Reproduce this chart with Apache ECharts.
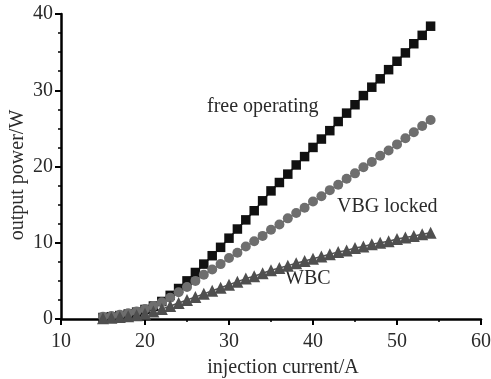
<!DOCTYPE html>
<html>
<head>
<meta charset="utf-8">
<script src="https://cdn.jsdelivr.net/npm/echarts@6/dist/echarts.min.js"></script>
<style>
  html, body { margin: 0; padding: 0; background: #fff; }
  #chart { width: 491px; height: 379px; }
</style>
</head>
<body>
<div id="chart"></div>
<script>
// Injection current (A)
const current = [15,16,17,18,19,20,21,22,23,24,25,26,27,28,29,30,31,32,33,34,35,36,37,38,39,40,41,42,43,44,45,46,47,48,49,50,51,52,53,54];
// Output power (W) for each configuration
const freeOperating = [0.2,0.3,0.45,0.65,0.9,1.25,1.7,2.3,3.1,4.0,5.0,6.1,7.2,8.3,9.4,10.6,11.8,13.0,14.2,15.5,16.8,17.9,19.0,20.2,21.3,22.5,23.6,24.7,25.9,27.0,28.1,29.3,30.4,31.5,32.7,33.8,34.9,36.1,37.2,38.4];
const vbgLocked = [0.3,0.4,0.55,0.75,1.0,1.3,1.7,2.2,2.8,3.5,4.2,5.0,5.8,6.5,7.2,8.0,8.7,9.5,10.2,10.9,11.7,12.4,13.2,13.9,14.6,15.4,16.1,16.9,17.6,18.4,19.1,19.9,20.6,21.4,22.1,22.9,23.7,24.5,25.3,26.1];
const wbc = [0.1,0.15,0.25,0.35,0.5,0.7,1.0,1.3,1.7,2.1,2.5,2.9,3.3,3.7,4.1,4.5,4.9,5.3,5.6,6.0,6.4,6.7,7.0,7.3,7.6,7.9,8.2,8.5,8.8,9.0,9.3,9.5,9.8,10.0,10.2,10.5,10.7,10.9,11.1,11.3];
const seriesNames = ['free operating', 'VBG locked', 'WBC'];

const FONT = '"Liberation Serif", "DejaVu Serif", serif';
const pairs = arr => current.map((c, i) => [c, arr[i]]);

const chart = echarts.init(document.getElementById('chart'));
const axisCommon = {
  axisLine: { onZero: false, lineStyle: { color: '#000', width: 2.5 } },
  axisTick: { inside: false, length: 6, lineStyle: { color: '#000', width: 2 } },
  minorTick: { show: true, length: 3, lineStyle: { color: '#000', width: 1.5 } },
  splitLine: { show: false },
  axisLabel: { color: '#2a2a2a', fontFamily: FONT, fontSize: 20 },
  nameTextStyle: { color: '#2a2a2a', fontFamily: FONT, fontSize: 20 },
  nameMoveOverlap: false
};

chart.setOption({
  animation: false,
  backgroundColor: '#fff',
  grid: { left: 61, right: 10, top: 14, bottom: 60, containLabel: false, outerBoundsMode: 'none' },
  xAxis: Object.assign({}, axisCommon, {
    type: 'value', min: 10, max: 60, interval: 10,
    minorTick: Object.assign({}, axisCommon.minorTick, { splitNumber: 2 }),
    axisLabel: Object.assign({}, axisCommon.axisLabel, { margin: 13 }),
    name: 'injection current/A', nameLocation: 'middle', nameGap: 39,
    nameTextStyle: Object.assign({}, axisCommon.nameTextStyle, { padding: [0, 0, 0, 24] })
  }),
  yAxis: Object.assign({}, axisCommon, {
    type: 'value', min: 0, max: 40, interval: 10,
    minorTick: Object.assign({}, axisCommon.minorTick, { splitNumber: 4 }),
    axisLabel: Object.assign({}, axisCommon.axisLabel, { margin: 8 }),
    name: 'output power/W', nameLocation: 'middle', nameGap: 33,
    nameTextStyle: Object.assign({}, axisCommon.nameTextStyle, { padding: [0, 17, 0, 0] })
  }),
  series: [
    {
      name: seriesNames[0], type: 'line', data: pairs(freeOperating),
      symbol: 'rect', symbolSize: 9.5,
      lineStyle: { color: '#111', width: 1.5 }, itemStyle: { color: '#111' }
    },
    {
      name: seriesNames[1], type: 'line', data: pairs(vbgLocked),
      symbol: 'circle', symbolSize: 10,
      lineStyle: { color: '#6e6e6e', width: 1.5 }, itemStyle: { color: '#6e6e6e' }
    },
    {
      name: seriesNames[2], type: 'line', data: pairs(wbc),
      symbol: 'triangle', symbolSize: 12,
      lineStyle: { color: '#4f4f4f', width: 1.5 }, itemStyle: { color: '#4f4f4f' }
    }
  ],
  graphic: [
    { type: 'text', left: 207, top: 97, style: { text: seriesNames[0], font: '20px ' + FONT, fill: '#2a2a2a' } },
    { type: 'text', left: 337, top: 197, style: { text: seriesNames[1], font: '20px ' + FONT, fill: '#2a2a2a' } },
    { type: 'text', left: 285, top: 269, style: { text: seriesNames[2], font: '20px ' + FONT, fill: '#2a2a2a' } }
  ]
});
</script>
</body>
</html>
